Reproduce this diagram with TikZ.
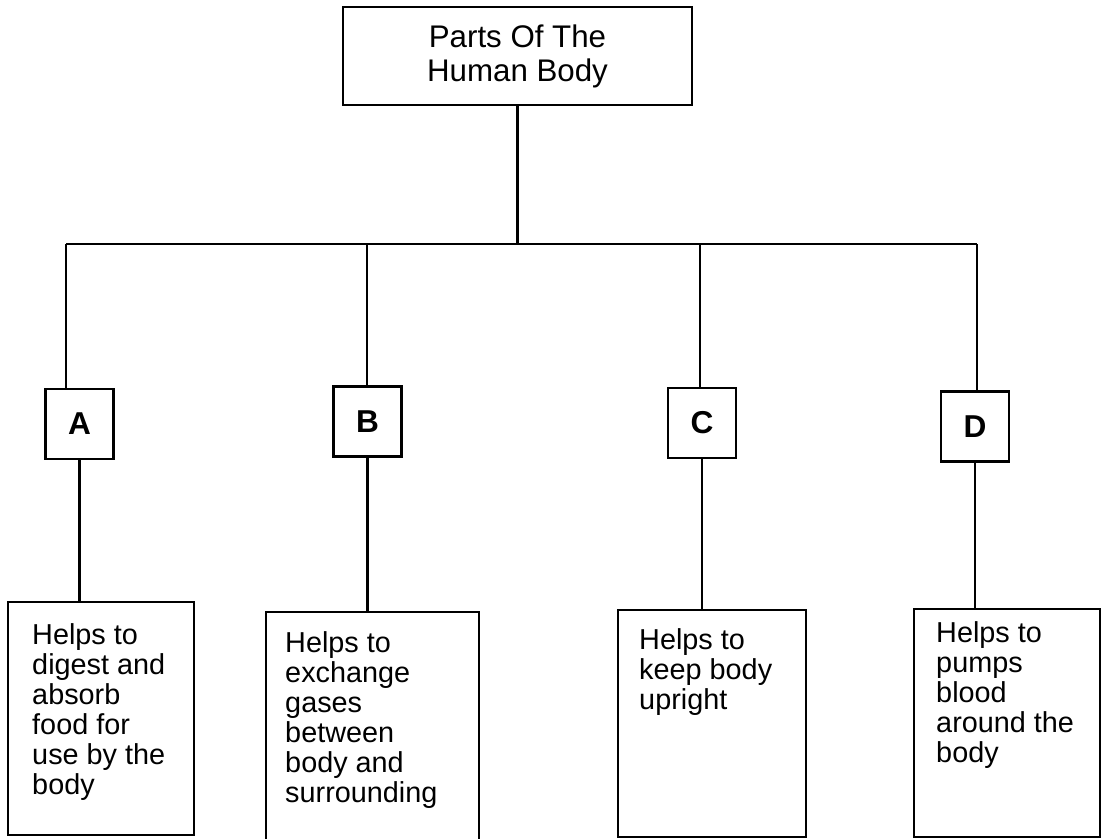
\documentclass[tikz,border=0pt]{standalone}
\usepackage{fontspec}
\setmainfont{Liberation Sans}
\usepackage{tikz}

\begin{document}
\begin{tikzpicture}[line width=1.4pt,
  title/.style={draw, minimum width=6.98cm, minimum height=1.96cm, align=center, font=\fontsize{17.8}{19.4}\selectfont},
  letter/.style={draw, minimum width=1.36cm, minimum height=1.4cm, font=\fontsize{18}{20}\selectfont\bfseries},
  info/.style={draw, anchor=north west},
  infotext/.style={anchor=north west, inner sep=0pt, align=left, font=\fontsize{16.4}{17.1}\selectfont}]
%\draw[help lines] (0,0) grid (22,-17);
\useasboundingbox (0,0) rectangle (22.04,-16.76);
\node (t) [title] at (10.35,-1.12) {Parts Of The\\Human Body};
\coordinate (ja) at (1.32,-4.88);
\coordinate (jb) at (7.34,-4.88);
\coordinate (jc) at (14.0,-4.88);
\coordinate (jd) at (19.54,-4.88);
\node (a) [letter] at (1.59,-8.48) {A};
\node (b) [letter] at (7.35,-8.43) {B};
\node (c) [letter] at (14.04,-8.46) {C};
\node (d) [letter] at (19.5,-8.53) {D};
\node (la) [info, minimum width=3.72cm, minimum height=4.66cm] at (0.14,-12.02) {};
\node (lb) [info, minimum width=4.26cm, minimum height=4.68cm] at (5.3,-12.22) {};
\node (lc) [info, minimum width=3.76cm, minimum height=4.54cm] at (12.34,-12.18) {};
\node (ld) [info, minimum width=3.72cm, minimum height=4.56cm] at (18.26,-12.16) {};
\node (ta) [infotext] at ([shift={(0.48,-0.42)}]la.north west) {Helps to\\digest and\\absorb\\food for\\use by the\\body};
\node (tb) [infotext] at ([shift={(0.38,-0.38)}]lb.north west) {Helps to\\exchange\\gases\\between\\body and\\surrounding};
\node (tc) [infotext] at ([shift={(0.42,-0.36)}]lc.north west) {Helps to\\keep body\\upright};
\node (td) [infotext] at ([shift={(0.44,-0.24)}]ld.north west) {Helps to\\pumps\\blood\\around the\\body};
\draw (t.south) -- (t.south |- ja);
\draw (ja) -- (jd);
\draw (ja) -- (ja |- a.north);
\draw (jb) -- (jb |- b.north);
\draw (jc) -- (jc |- c.north);
\draw (jd) -- (jd |- d.north);
\draw (a.south) -- (a.south |- la.north);
\draw (b.south) -- (b.south |- lb.north);
\draw (c.south) -- (c.south |- lc.north);
\draw (d.south) -- (d.south |- ld.north);
\end{tikzpicture}
\end{document}
